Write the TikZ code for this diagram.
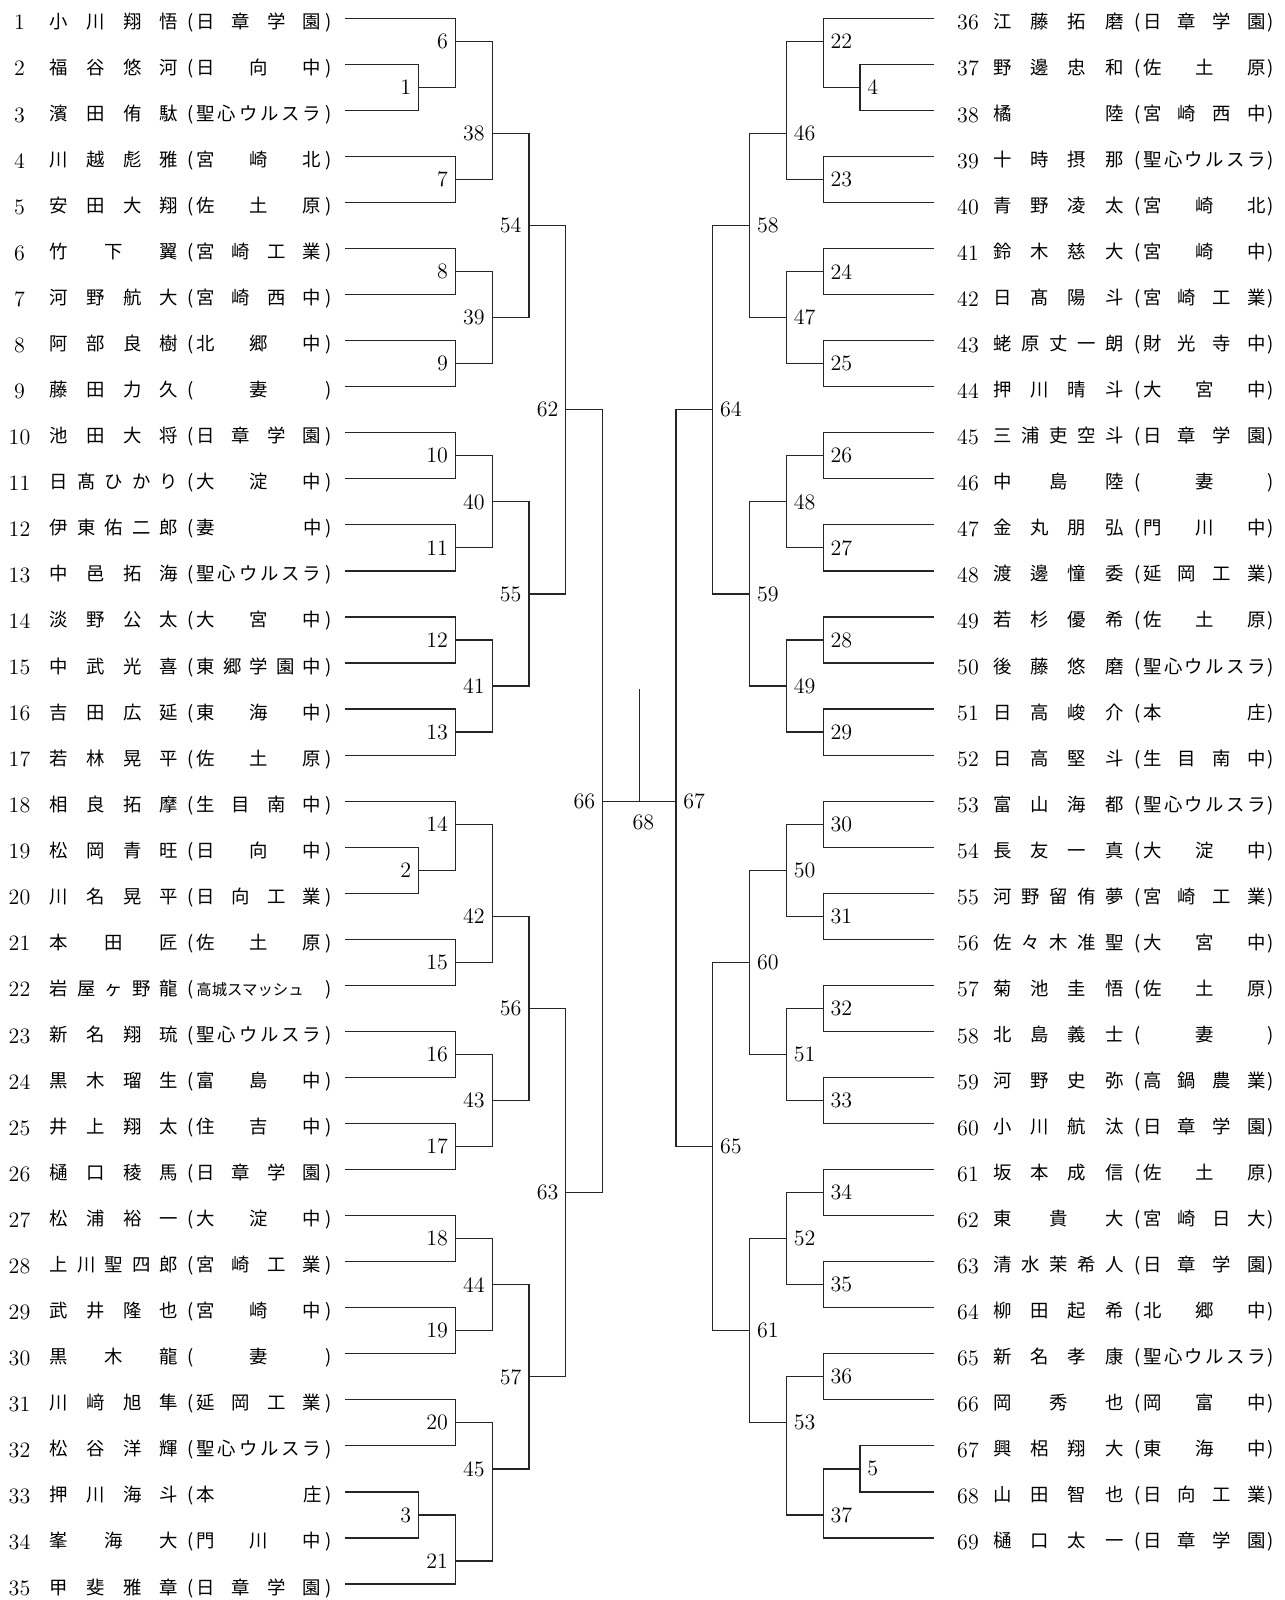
\documentclass[tikz,border=0pt]{standalone}
\usepackage{fontspec}
\newfontfamily\jfont{Noto Sans CJK JP}
\usetikzlibrary{calc}

% spread the characters of a name over a fixed box
\makeatletter
\def\spr@#1#2\relax{#1\ifx\relax#2\relax\else\hfill\spr@#2\relax\fi}
\newcommand\spreadname[1]{\expandafter\spr@#1\relax}
\makeatother
\newcommand\kjs{\fontsize{7.7}{9}\selectfont}

\begin{document}
\begin{tikzpicture}[x=0.5pt, y=-23.025pt,
  bline/.style={line width=0.6pt, draw=black!85},
  pnum/.style={font=\fontsize{11}{13}\selectfont, inner sep=0pt, anchor=base, yshift=-5.8pt},
  ptext/.style={font=\jfont\fontsize{9.2}{11}\selectfont, inner sep=0pt, anchor=base west, yshift=-5pt},
  paren/.style={font=\jfont\fontsize{9.2}{11}\selectfont, inner sep=0pt, anchor=base, yshift=-5pt},
  mlab/.style={font=\fontsize{11}{13}\selectfont, inner sep=0pt},
]
\useasboundingbox (0,0.6026) rectangle (1284,35.347);

% Left block: players 1-35
\foreach \i/\nm/\sc in {1/小川翔悟/日章学園, 2/福谷悠河/日向中, 3/濱田侑駄/聖心ウルスラ,
    4/川越彪雅/宮崎北, 5/安田大翔/佐土原, 6/竹下翼/宮崎工業, 7/河野航大/宮崎西中,
    8/阿部良樹/北郷中, 9/藤田力久/\hfill 妻\hfill, 10/池田大将/日章学園,
    11/日髙ひかり/大淀中, 12/伊東佑二郎/妻中, 13/中邑拓海/聖心ウルスラ,
    14/淡野公太/大宮中, 15/中武光喜/東郷学園中, 16/吉田広延/東海中,
    17/若林晃平/佐土原, 18/相良拓摩/生目南中, 19/松岡青旺/日向中,
    20/川名晃平/日向工業, 21/本田匠/佐土原, 22/岩屋ヶ野龍/{{\kjs 高城スマッシュ}\hfill},
    23/新名翔琉/聖心ウルスラ, 24/黒木瑠生/富島中, 25/井上翔太/住吉中,
    26/樋口稜馬/日章学園, 27/松浦裕一/大淀中, 28/上川聖四郎/宮崎工業,
    29/武井隆也/宮崎中, 30/黒木龍/\hfill 妻\hfill, 31/川﨑旭隼/延岡工業,
    32/松谷洋輝/聖心ウルスラ, 33/押川海斗/本庄, 34/峯海大/門川中, 35/甲斐雅章/日章学園}{
  \coordinate (p\i) at (345,\i);
  \node[pnum] (num\i) at (19.5,\i) {\i};
  \node[ptext] (nm\i) at (49,\i) {\makebox[64.5pt][s]{\spreadname{\nm}}};
  \node[paren] (lp\i) at (190.5,\i) {(};
  \node[ptext] (sc\i) at (196,\i) {\makebox[62.5pt][s]{\spreadname{\sc}}};
  \node[paren] (rp\i) at (328.5,\i) {)};
}

% Right block: players 36-69
\foreach \i/\nm/\sc [count=\r] in {36/江藤拓磨/日章学園, 37/野邊忠和/佐土原, 38/橘陸/宮崎西中,
    39/十時摂那/聖心ウルスラ, 40/青野凌太/宮崎北, 41/鈴木慈大/宮崎中, 42/日髙陽斗/宮崎工業,
    43/蛯原丈一朗/財光寺中, 44/押川晴斗/大宮中, 45/三浦吏空斗/日章学園,
    46/中島陸/\hfill 妻\hfill, 47/金丸朋弘/門川中, 48/渡邊憧委/延岡工業,
    49/若杉優希/佐土原, 50/後藤悠磨/聖心ウルスラ, 51/日高峻介/本庄,
    52/日高堅斗/生目南中, 53/富山海都/聖心ウルスラ, 54/長友一真/大淀中,
    55/河野留侑夢/宮崎工業, 56/佐々木准聖/大宮中, 57/菊池圭悟/佐土原,
    58/北島義士/\hfill 妻\hfill, 59/河野史弥/高鍋農業, 60/小川航汰/日章学園,
    61/坂本成信/佐土原, 62/東貴大/宮崎日大, 63/清水茉希人/日章学園,
    64/柳田起希/北郷中, 65/新名孝康/聖心ウルスラ, 66/岡秀也/岡富中,
    67/興梠翔大/東海中, 68/山田智也/日向工業, 69/樋口太一/日章学園}{
  \coordinate (p\i) at (933.5,\r);
  \node[pnum] (num\i) at (968,\r) {\i};
  \node[ptext] (nm\i) at (993,\r) {\makebox[65pt][s]{\spreadname{\nm}}};
  \node[paren] (lp\i) at (1137.5,\r) {(};
  \node[ptext] (sc\i) at (1143,\r) {\makebox[61pt][s]{\spreadname{\sc}}};
  \node[paren] (rp\i) at (1270.5,\r) {)};
}

% Left bracket: match/column/row/upper/lower
\foreach \m/\c/\y/\a/\b in {1/0/2.5/p2/p3, 2/0/19.5/p19/p20, 3/0/33.5/p33/p34,
    6/1/1.5/p1/m1, 7/1/4.5/p4/p5, 8/1/6.5/p6/p7, 9/1/8.5/p8/p9, 10/1/10.5/p10/p11,
    11/1/12.5/p12/p13, 12/1/14.5/p14/p15, 13/1/16.5/p16/p17, 14/1/18.5/p18/m2,
    15/1/21.5/p21/p22, 16/1/23.5/p23/p24, 17/1/25.5/p25/p26, 18/1/27.5/p27/p28,
    19/1/29.5/p29/p30, 20/1/31.5/p31/p32, 21/1/34.5/m3/p35,
    38/2/3.5/m6/m7, 39/2/7.5/m8/m9, 40/2/11.5/m10/m11, 41/2/15.5/m12/m13,
    42/2/20.5/m14/m15, 43/2/24.5/m16/m17, 44/2/28.5/m18/m19, 45/2/32.5/m20/m21,
    54/3/5.5/m38/m39, 55/3/13.5/m40/m41, 56/3/22.5/m42/m43, 57/3/30.5/m44/m45,
    62/4/9.5/m54/m55, 63/4/26.5/m56/m57, 66/5/18/m62/m63}{
  \coordinate (m\m) at ({418.5+36.8*\c},\y);
  \draw[bline] (\a) -| (m\m) |- (\b);
  \node[mlab, anchor=east, xshift=-3.5pt] (l\m) at (m\m) {\m};
}

% Right bracket
\foreach \m/\c/\y/\a/\b in {4/0/2.5/p37/p38, 5/0/32.5/p67/p68,
    22/1/1.5/p36/m4, 23/1/4.5/p39/p40, 24/1/6.5/p41/p42, 25/1/8.5/p43/p44,
    26/1/10.5/p45/p46, 27/1/12.5/p47/p48, 28/1/14.5/p49/p50, 29/1/16.5/p51/p52,
    30/1/18.5/p53/p54, 31/1/20.5/p55/p56, 32/1/22.5/p57/p58, 33/1/24.5/p59/p60,
    34/1/26.5/p61/p62, 35/1/28.5/p63/p64, 36/1/30.5/p65/p66, 37/1/33.5/m5/p69,
    46/2/3.5/m22/m23, 47/2/7.5/m24/m25, 48/2/11.5/m26/m27, 49/2/15.5/m28/m29,
    50/2/19.5/m30/m31, 51/2/23.5/m32/m33, 52/2/27.5/m34/m35, 53/2/31.5/m36/m37,
    58/3/5.5/m46/m47, 59/3/13.5/m48/m49, 60/3/21.5/m50/m51, 61/3/29.5/m52/m53,
    64/4/9.5/m58/m59, 65/4/25.5/m60/m61, 67/5/18/m64/m65}{
  \coordinate (m\m) at ({860-36.8*\c},\y);
  \draw[bline] (\a) -| (m\m) |- (\b);
  \node[mlab, anchor=west, xshift=3.5pt] (l\m) at (m\m) {\m};
}

% Final
\coordinate (m68) at (639.3,18);
\coordinate (top68) at (639.3,15.57);
\draw[bline] (m66) -- (m67);
\draw[bline] (m68) -- (top68);
\node[mlab, anchor=north, yshift=-6.5pt, xshift=2pt] (l68) at (m68) {68};
\end{tikzpicture}
\end{document}
